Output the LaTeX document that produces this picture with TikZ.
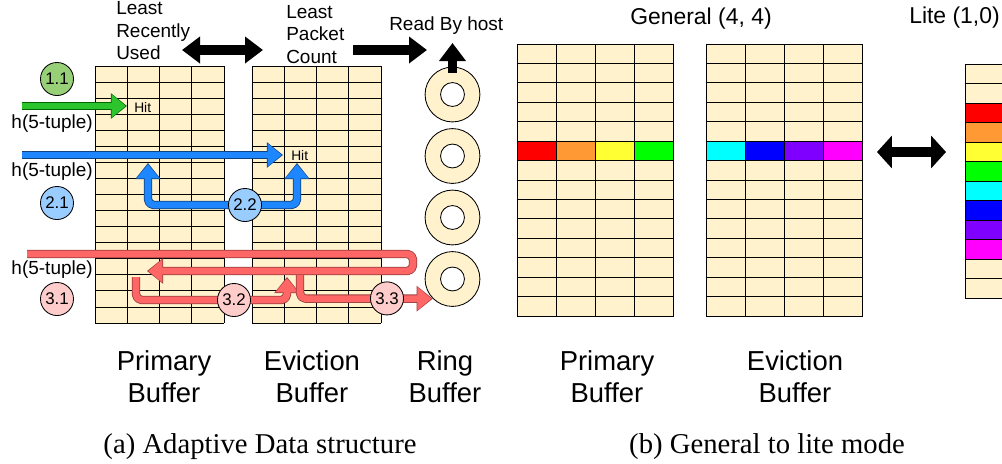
\documentclass[tikz,border=0pt]{standalone}
\usepackage{fontspec}
\setmainfont{Liberation Serif}
\setsansfont{Liberation Sans}
\usetikzlibrary{arrows.meta}
\pgfdeclarelayer{background}
\pgfdeclarelayer{foreground}
\pgfsetlayers{background,main,foreground}

\definecolor{cream}{HTML}{FFF2CC}
\definecolor{flowgreen}{HTML}{2DC52D}
\definecolor{flowblue}{HTML}{1E86FF}
\definecolor{flowred}{HTML}{FF6666}
\definecolor{tagGreen}{HTML}{97D077}
\definecolor{tagBlue}{HTML}{99CCFF}
\definecolor{tagRed}{HTML}{FFCCCC}
\definecolor{sRed}{HTML}{FF0000}
\definecolor{sOrange}{HTML}{FF9933}
\definecolor{sYellow}{HTML}{FFFF33}
\definecolor{sGreen}{HTML}{00FF00}
\definecolor{sCyan}{HTML}{00FFFF}
\definecolor{sBlue}{HTML}{0000FF}
\definecolor{sPurple}{HTML}{7F00FF}
\definecolor{sMagenta}{HTML}{FF00FF}

\begin{document}
\begin{tikzpicture}[x=0.025cm,y=-0.025cm,
    gridline/.style={draw=black,line width=0.6pt},
    cellbox/.style={fill=cream,draw=black,line width=0.6pt},
    badge/.style={circle,draw=black,line width=0.6pt,minimum size=23.5pt,inner sep=0pt,font={\sffamily\fontsize{12}{12}\selectfont}},
    ring/.style={circle,draw=black,line width=0.6pt,fill=cream,minimum size=39pt,inner sep=0pt},
    hole/.style={circle,draw=black,line width=0.6pt,fill=white,minimum size=17pt,inner sep=0pt},
    note/.style={inner sep=0pt,align=left,font={\sffamily\fontsize{13.5}{15.8}\selectfont}},
    hit/.style={inner sep=0pt,font={\sffamily\fontsize{9.8}{10}\selectfont}},
    title/.style={inner sep=0pt,align=center,font={\sffamily\fontsize{19.5}{22.7}\selectfont}},
    mode/.style={inner sep=0pt,font={\sffamily\fontsize{16.3}{18}\selectfont}},
    caption/.style={inner sep=0pt,font={\fontsize{20.4}{24}\selectfont}},
    bigtip/.tip={Triangle[length=12.8pt,width=18.4pt]},
    widetip/.tip={Triangle[length=10.6pt,width=22.7pt]},
    outtip/.tip={Triangle[length=11.5pt,width=17.5pt]},
    intip/.tip={Triangle[length=10pt,width=15.8pt]},
    bigarrow/.style={line width=7pt},
    flowout/.style={line width=6pt,rounded corners=4pt,line join=round,-outtip},
    flowin/.style={line width=4.8pt,rounded corners=4pt,line join=round,shorten >=0.9pt,-intip}]

    \useasboundingbox (0,0) rectangle (1002,463);
    \clip (0,0) rectangle (1002,463);

    % (a) primary and eviction buffer
    \begin{pgfonlayer}{background}
        \foreach \bx in {95,252}{
            \fill[cream] (\bx,66) rectangle ++(129,257);
            \foreach \r in {0,...,16}
                \draw[gridline] (\bx,{66+\r*16.0625}) -- ++(129,0);
            \foreach \c in {0,...,4}
                \draw[gridline] ({\bx+\c*32.25},66) -- ++(0,257);
        }
    \end{pgfonlayer}

    % ring buffer
    \foreach \ry [count=\i] in {94.5,156,217.5,279}{
        \node[ring] (ring\i) at (452.5,\ry) {};
        \node[hole] (hole\i) at (ring\i) {};
    }

    % (b) primary and eviction buffer
    \foreach \bx/\ca/\cb/\cc/\cd in {517/sRed/sOrange/sYellow/sGreen,706/sCyan/sBlue/sPurple/sMagenta}{
        \foreach \r in {0,...,13}
            \foreach \c in {0,...,3}
                \draw[cellbox] ({\bx+\c*39},{44+\r*19.43}) rectangle ++(39,19.43);
        \foreach \col [count=\c from 0] in {\ca,\cb,\cc,\cd}
            \draw[cellbox,fill=\col] ({\bx+\c*39},{44+5*19.43}) rectangle ++(39,19.43);
    }

    % lite buffer
    \foreach \col [count=\r from 0] in {cream,cream,sRed,sOrange,sYellow,sGreen,sCyan,sBlue,sPurple,sMagenta,cream,cream}
        \draw[cellbox,fill=\col] (965,{64+\r*19.5}) rectangle ++(60,19.5);

    % step tags
    \begin{pgfonlayer}{foreground}
        \node[badge,fill=tagGreen] (tag11) at (57,79) {1.1};
        \node[badge,fill=tagBlue] (tag21) at (57,203) {2.1};
        \node[badge,fill=tagBlue] (tag22) at (245,205) {2.2};
        \node[badge,fill=tagRed] (tag31) at (57,299) {3.1};
        \node[badge,fill=tagRed] (tag32) at (234,300) {3.2};
        \node[badge,fill=tagRed] (tag33) at (387,298.4) {3.3};
    \end{pgfonlayer}

    \coordinate (g0) at (22,106);
    \coordinate (g1) at (127,106);
    \coordinate (b0) at (22,155);
    \coordinate (b1) at (283,155);
    \coordinate (up1) at (148,163);
    \coordinate (up2) at (297,163);
    \coordinate (r0) at (27,254);
    \coordinate (rtop) at (413,254);
    \coordinate (rbot) at (413,271);
    \coordinate (r1) at (147,271);
    \coordinate (s0) at (136,277);
    \coordinate (s1) at (287,277);
    \coordinate (u0) at (300,275);

    % hit in primary
    \draw[flowout,green!40!black] (g0) -- (g1);
    \draw[flowin,flowgreen] (g0) -- (g1);

    % hit in eviction
    \draw[flowout,flowblue!50!black] (b0) -- (b1);
    \draw[flowin,flowblue] (b0) -- (b1);
    \draw[flowout,flowblue!50!black,outtip-outtip] (up1) |- (tag22.center) -| (up2);
    \draw[flowin,flowblue,shorten <=0.9pt,intip-intip] (up1) |- (tag22.center) -| (up2);

    % miss
    \draw[flowout,flowred!60!black] (r0) -- (rtop) -- (rbot) -- (r1);
    \draw[flowin,flowred] (r0) -- (rtop) -- (rbot) -- (r1);
    \draw[flowout,flowred!60!black] (s0) |- (tag32.center) -| (s1);
    \draw[flowin,flowred] (s0) |- (tag32.center) -| (s1);
    \draw[flowout,flowred!60!black] (u0) |- (ring4.south west);
    \draw[flowin,flowred] (u0) |- (ring4.south west);

    % policies
    \coordinate (lruE) at (182,50);
    \coordinate (lpcW) at (263,50);
    \coordinate (lpcE) at (353,50);
    \coordinate (ringN) at (427,50);
    \coordinate (hostTip) at (452.5,43);
    \coordinate (modeL) at (877,152);
    \coordinate (modeR) at (946,152);
    \draw[bigarrow,bigtip-bigtip] (lruE) -- (lpcW);
    \draw[bigarrow,-bigtip] (lpcE) -- (ringN);
    \draw[bigarrow,-bigtip] ([yshift=-4.3pt]ring1.north) -- (hostTip);
    \draw[bigarrow,widetip-widetip] (modeL) -- (modeR);

    % texts
    \node[note,anchor=base west] (lru) at (116,59.3) {Least\\Recently\\Used};
    \node[note,anchor=base west] (lpc) at (286,63) {Least\\Packet\\Count};
    \node[note,anchor=base west] (host) at (389,30) {Read By host};
    \node[hit,anchor=base west] (hit1) at (134,112) {Hit};
    \node[hit,anchor=base west] (hit2) at (291,160) {Hit};
    \node[note,anchor=base east] (key1) at (93,128) {h(5-tuple)};
    \node[note,anchor=base east] (key2) at (93,176) {h(5-tuple)};
    \node[note,anchor=base east] (key3) at (93,274) {h(5-tuple)};
    \node[mode,anchor=base] (general) at (701,24) {General (4, 4)};
    \node[mode,anchor=base west] (lite) at (909,23) {Lite (1,0)};

    \node[title,anchor=base] (primA) at (164,402) {Primary\\Buffer};
    \node[title,anchor=base] (evicA) at (312,402) {Eviction\\Buffer};
    \node[title,anchor=base] (ringA) at (445,402) {Ring\\Buffer};
    \node[title,anchor=base] (primB) at (607,402) {Primary\\Buffer};
    \node[title,anchor=base] (evicB) at (795,402) {Eviction\\Buffer};

    \node[caption,anchor=base] (capA) at (260,453) {(a) Adaptive Data structure};
    \node[caption,anchor=base] (capB) at (767,453) {(b) General to lite mode};
\end{tikzpicture}
\end{document}
